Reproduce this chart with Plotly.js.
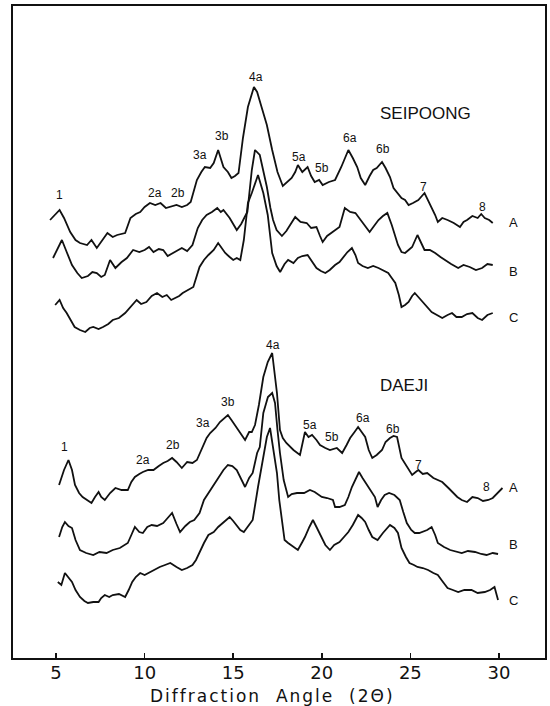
<!DOCTYPE html>
<html><head><meta charset="utf-8">
<script src="https://cdn.plot.ly/plotly-3.0.1.min.js"></script>
<style>html,body{margin:0;padding:0;background:#fff;}#chart{width:550px;height:706px;}</style>
</head><body><div id="chart"></div>
<script>
// Diffraction angle (2θ) and relative intensity (arbitrary units, stacked) for each pattern
const seiA_x = [4.66,5.0,5.2,5.45,5.8,6.1,6.35,6.75,7.0,7.3,7.6,7.9,8.2,8.45,8.9,9.2,9.5,9.75,10.0,10.3,10.6,10.9,11.2,11.4,11.8,12.1,12.4,12.6,12.95,13.2,13.4,13.7,13.9,14.15,14.45,14.7,14.9,15.1,15.3,15.55,15.83,16.17,16.35,16.6,16.9,17.2,17.5,17.8,18.05,18.3,18.5,18.65,18.9,19.2,19.4,19.6,19.85,20.05,20.4,20.75,21.1,21.5,21.75,22.0,22.2,22.45,22.7,22.9,23.1,23.4,23.6,23.85,24.05,24.25,24.5,24.7,24.9,25.15,25.45,25.8,26.0,26.2,26.4,26.55,26.8,27.1,27.45,27.8,28.0,28.2,28.5,28.8,29.0,29.2,29.45,29.65];
const seiA_y = [438,444,448,440,426,418,415,413,418,410,418,425,421,423,425,440,444,446,451,455,453,455,450,451,453,451,453,456,478,486,491,490,495,508,491,486,480,482,485,520,551,571,566,551,533,508,486,472,476,480,486,493,486,491,482,476,478,473,476,478,491,508,500,491,480,473,482,488,490,496,490,481,470,465,460,458,453,455,458,465,458,451,443,436,440,438,435,431,436,438,442,440,444,440,438,435];

const seiB_x = [4.83,5.1,5.33,5.6,5.9,6.2,6.45,6.8,7.05,7.3,7.55,7.75,8.05,8.35,8.7,9.0,9.35,9.7,10.0,10.25,10.5,10.8,11.05,11.3,11.6,11.85,12.1,12.4,12.7,13.0,13.25,13.5,13.8,14.1,14.3,14.45,14.8,15.2,15.45,15.65,15.8,16.05,16.23,16.5,16.7,16.9,17.1,17.25,17.45,17.75,18.0,18.2,18.5,18.8,19.15,19.4,19.7,19.9,20.05,20.3,20.6,21.0,21.3,21.6,21.9,22.1,22.3,22.5,22.7,22.95,23.2,23.45,23.7,23.95,24.15,24.3,24.5,24.7,24.9,25.1,25.4,25.6,25.8,26.1,26.4,26.7,26.95,27.3,27.7,28.0,28.35,28.7,29.05,29.35,29.65];
const seiB_y = [400,410,418,406,393,385,380,382,386,385,381,383,398,390,396,400,408,406,408,411,406,409,408,402,405,408,410,407,413,430,438,443,446,450,446,448,440,428,434,441,446,488,508,503,488,471,450,438,428,422,427,433,441,436,435,430,431,422,416,422,426,431,450,446,445,440,435,430,426,432,438,442,445,433,422,413,406,405,408,411,423,415,408,408,405,401,398,394,390,393,391,388,390,394,393];

const seiC_x = [4.95,5.2,5.4,5.6,6.05,6.35,6.65,6.9,7.1,7.4,7.65,7.95,8.2,8.55,8.9,9.2,9.55,9.8,10.1,10.4,10.7,11.0,11.25,11.5,11.7,11.95,12.15,12.45,12.75,13.1,13.35,13.6,13.9,14.15,14.35,14.55,14.8,15.0,15.2,15.4,15.6,15.83,16.05,16.4,16.7,16.95,17.2,17.45,17.65,17.9,18.1,18.4,18.65,18.9,19.2,19.45,19.7,19.95,20.2,20.45,20.75,21.0,21.2,21.45,21.7,21.9,22.05,22.3,22.6,22.9,23.2,23.45,23.75,23.95,24.15,24.35,24.5,24.7,24.9,25.1,25.25,25.45,25.7,25.95,26.2,26.5,26.8,27.1,27.35,27.6,27.9,28.2,28.5,28.8,29.05,29.35,29.65];
const seiC_y = [353,358,350,345,331,328,326,330,331,329,331,334,338,340,345,351,358,354,356,362,365,361,363,358,360,362,365,368,371,391,398,403,408,415,410,405,401,398,400,398,418,455,465,483,465,443,405,392,386,394,398,395,400,402,403,396,390,387,385,388,393,396,401,406,410,403,395,392,390,392,390,388,385,380,375,363,351,353,356,362,365,361,356,351,346,343,340,343,345,341,341,344,345,340,338,343,345];

const daeA_x = [5.17,5.45,5.7,5.9,6.07,6.3,6.5,6.75,7.0,7.2,7.4,7.55,7.75,8.05,8.35,8.7,9.05,9.25,9.45,9.7,9.9,10.2,10.5,10.8,11.05,11.3,11.55,11.8,12.1,12.4,12.7,12.95,13.3,13.5,13.7,14.0,14.25,14.5,14.7,14.9,15.1,15.4,15.67,15.9,16.05,16.23,16.45,16.7,16.95,17.2,17.47,17.64,17.8,18.0,18.4,18.77,19.05,19.25,19.45,19.7,19.9,20.2,20.46,20.85,21.15,21.4,21.6,21.85,22.05,22.25,22.45,22.65,22.85,23.1,23.4,23.6,23.85,24.05,24.25,24.5,24.8,25.1,25.3,25.45,25.7,25.95,26.3,26.55,26.8,27.15,27.4,27.65,27.9,28.2,28.5,28.8,29.1,29.4,29.65,29.9,30.2];
const daeA_y = [173,188,198,188,173,165,161,158,155,161,166,161,158,165,170,168,168,176,181,184,186,188,188,192,195,197,200,196,190,196,195,198,213,220,225,230,236,240,243,238,233,226,218,226,226,233,253,281,296,305,265,228,220,215,208,203,226,221,223,218,213,210,208,210,205,213,220,226,231,226,221,208,200,203,208,216,220,222,221,200,191,183,186,188,184,185,180,178,176,170,165,161,158,156,161,160,157,158,160,165,170];

const daeB_x = [5.17,5.35,5.5,5.7,5.9,6.1,6.35,6.7,7.1,7.45,7.85,8.2,8.6,9.05,9.25,9.45,9.7,9.9,10.15,10.4,10.7,11.05,11.3,11.55,11.8,12.0,12.3,12.55,12.8,13.1,13.35,13.6,13.9,14.15,14.45,14.7,14.95,15.2,15.45,15.67,15.9,16.1,16.35,16.5,16.7,16.96,17.2,17.36,17.5,17.64,17.85,18.1,18.3,18.6,19.0,19.33,19.6,20.0,20.3,20.63,20.75,21.0,21.3,21.5,21.7,21.9,22.1,22.3,22.55,22.8,23.0,23.15,23.35,23.55,23.8,24.1,24.4,24.6,24.8,25.05,25.25,25.5,25.7,25.95,26.2,26.4,26.55,26.9,27.25,27.6,27.9,28.25,28.65,29.0,29.3,29.65,29.95];
const daeB_y = [121,131,136,132,130,118,108,105,103,106,105,108,110,115,123,131,126,125,131,133,132,135,140,145,134,126,132,136,138,145,158,165,173,181,188,193,192,188,178,171,180,185,205,211,245,261,265,255,228,205,178,161,164,165,165,168,166,161,160,158,151,151,153,161,171,178,186,180,173,166,161,151,158,163,165,163,158,146,135,128,125,125,126,128,131,123,115,111,108,106,105,107,106,104,103,105,104];

const daeC_x = [5.1,5.3,5.5,5.7,5.9,6.1,6.35,6.6,6.8,7.1,7.4,7.55,7.75,8.0,8.2,8.55,8.9,9.1,9.3,9.5,9.75,10.0,10.3,10.6,10.85,11.15,11.45,11.8,12.1,12.4,12.7,12.9,13.1,13.35,13.6,13.9,14.15,14.5,14.8,15.0,15.2,15.4,15.6,15.85,16.1,16.4,16.6,16.9,17.08,17.3,17.47,17.6,17.75,17.9,18.1,18.4,18.65,18.9,19.05,19.3,19.5,19.7,20.0,20.2,20.46,20.7,21.0,21.25,21.5,21.75,22.05,22.25,22.45,22.65,22.85,23.15,23.45,23.85,24.1,24.3,24.5,24.75,24.95,25.2,25.4,25.7,26.0,26.3,26.55,26.8,27.1,27.4,27.7,28.05,28.45,28.8,29.2,29.5,29.75,29.95];
const daeC_y = [76,73,85,80,76,68,61,57,55,56,56,60,63,61,63,64,61,68,76,81,85,83,86,89,91,93,95,91,88,90,93,98,106,115,123,126,131,136,141,137,133,128,126,132,138,171,191,221,230,206,185,158,138,118,115,111,108,116,121,131,138,131,121,113,108,113,116,121,126,133,143,140,136,128,121,118,125,133,130,125,110,101,95,93,91,90,88,85,83,77,70,68,66,68,68,65,66,68,71,58];

// Tick values and label texts
const xTicks = [5,10,15,20,25,30];
const peakText = ["1","2a","2b","3a","3b","4a","5a","5b","6a","6b","7","8"];
const seiPeakX = [5.22,10.58,11.88,13.12,14.36,16.28,18.71,20.01,21.59,23.45,25.76,29.09];
const seiPeakY = [463,465,465,503,522,581,501,490,520,509,471,451];
const daePeakX = [5.50,9.91,11.60,13.29,14.70,17.24,19.33,20.57,22.32,24.01,25.48,29.32];
const daePeakY = [211,198,213,235,256,313,233,221,240,229,193,171];
const sampleText = ["A","B","C"];
const sampleX = [30.8,30.8,30.8];
const seiSampleY = [436,387,341];
const daeSampleY = [171,114,58];
const groupText = ["SEIPOONG","DAEJI"];
const groupX = [23.17,23.17];
const groupY = [545,273];
const xTitle = "Diffraction\u00A0 Angle\u00A0 (2\u0398)";

const series = [
  [seiA_x, seiA_y],[seiB_x, seiB_y],[seiC_x, seiC_y],
  [daeA_x, daeA_y],[daeB_x, daeB_y],[daeC_x, daeC_y]
];
const traces = series.map(s => ({
  x: s[0], y: s[1], type: 'scatter', mode: 'lines',
  line: {color: '#111', width: 1.8}, hoverinfo: 'skip', showlegend: false
}));

const ann = [];
const smallFont = {family: 'Liberation Sans, Arial, sans-serif', size: 12, color: '#111'};
peakText.forEach((t, i) => {
  ann.push({x: seiPeakX[i], y: seiPeakY[i], text: t, showarrow: false, font: smallFont, xanchor: 'center', yanchor: 'middle'});
  ann.push({x: daePeakX[i], y: daePeakY[i], text: t, showarrow: false, font: smallFont, xanchor: 'center', yanchor: 'middle'});
});
sampleText.forEach((t, i) => {
  const f = {family: 'Liberation Sans, Arial, sans-serif', size: 13, color: '#111'};
  ann.push({x: sampleX[i], y: seiSampleY[i], text: t, showarrow: false, font: f, xanchor: 'center', yanchor: 'middle'});
  ann.push({x: sampleX[i], y: daeSampleY[i], text: t, showarrow: false, font: f, xanchor: 'center', yanchor: 'middle'});
});
groupText.forEach((t, i) => {
  ann.push({x: groupX[i], y: groupY[i], text: t, showarrow: false, xanchor: 'left', yanchor: 'middle',
    font: {family: 'Liberation Sans, Arial, sans-serif', size: 17, color: '#111'}});
});
ann.push({xref: 'paper', yref: 'paper', x: 0.487, y: -0.058, text: '<span style="letter-spacing:2px">' + xTitle + '</span>', showarrow: false,
  xanchor: 'center', yanchor: 'middle', font: {family: 'DejaVu Sans, sans-serif', size: 17, color: '#111'}});

const layout = {
  width: 550, height: 706,
  margin: {l: 13, r: 5, t: 6, b: 48},
  paper_bgcolor: '#fff', plot_bgcolor: '#fff',
  xaxis: {
    range: [2.57, 32.6], tickmode: 'array', tickvals: xTicks, ticktext: xTicks.map(String),
    ticks: 'inside', ticklen: 5, tickwidth: 1.5, tickcolor: '#111',
    showline: true, linewidth: 2, linecolor: '#111', mirror: true,
    showgrid: false, zeroline: false, ticklabelstandoff: -3,
    tickfont: {family: 'DejaVu Sans, sans-serif', size: 18, color: '#111'},
    title: {text: ''}
  },
  yaxis: {
    range: [0, 652], showticklabels: false, ticks: '',
    showline: true, linewidth: 2, linecolor: '#111', mirror: true,
    showgrid: false, zeroline: false, title: {text: ''}
  },
  annotations: ann
};
Plotly.newPlot('chart', traces, layout, {displayModeBar: false, staticPlot: true});
</script>
</body></html>
